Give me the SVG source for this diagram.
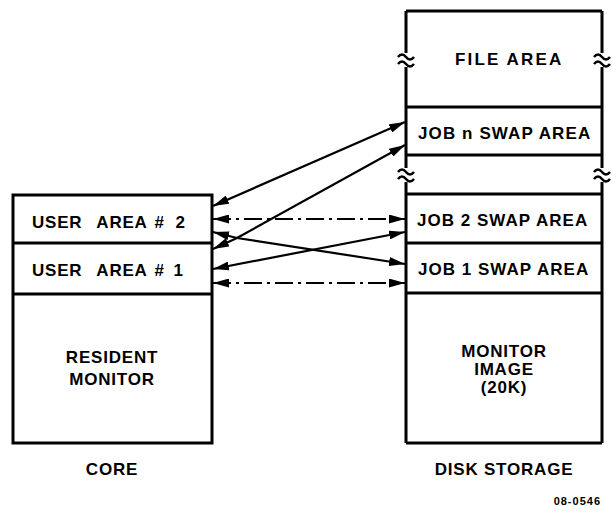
<svg xmlns="http://www.w3.org/2000/svg" width="612" height="512" viewBox="0 0 612 512">
<defs>
<style>
.box{fill:#fff;stroke:#000;stroke-width:3}
.ln{stroke:#000;stroke-width:3;fill:none}
.t{font-family:"Liberation Sans",Arial,sans-serif;font-weight:bold;font-size:17px;fill:#000;letter-spacing:0.8px}
.c{text-anchor:middle}
.conn{stroke:#000;stroke-width:2.2;fill:none}
.dash{stroke-dasharray:18 5 3 5}
.sq{stroke:#000;stroke-width:2.5;fill:none}
</style>
<marker id="ah" viewBox="0 0 16 9" refX="16" refY="4.5" markerWidth="16" markerHeight="9" markerUnits="userSpaceOnUse" orient="auto-start-reverse">
<path d="M0,0 L16,4.5 L0,9 Z" fill="#000"/>
</marker>
</defs>
<rect width="612" height="512" fill="#fff"/>

<g id="core">
<rect class="box" x="13" y="195" width="199" height="248"/>
<line class="ln" x1="13" y1="243" x2="212" y2="243"/>
<line class="ln" x1="13" y1="294" x2="212" y2="294"/>
</g>
<g id="user-area-2"><text class="t" x="32" y="228">USER <tspan dx="9">AREA</tspan> <tspan dx="2">#</tspan> <tspan dx="5">2</tspan></text></g>
<g id="user-area-1"><text class="t" x="32" y="276">USER <tspan dx="9">AREA</tspan> <tspan dx="2">#</tspan> <tspan dx="3">1</tspan></text></g>
<g id="resident-monitor"><text class="t c" x="112" y="363">RESIDENT</text><text class="t c" x="112" y="385">MONITOR</text></g>
<g id="core-label"><text class="t c" x="112" y="475">CORE</text></g>

<g id="disk">
<path class="ln" d="M406,11 H602 M406,443 H602 M406,107 H602 M406,155 H602 M406,194 H602 M406,243 H602 M406,293 H602"/>
<path class="ln" d="M406,11 V53 M406,67 V168 M406,182 V443 M602,11 V53 M602,67 V168 M602,182 V443"/>
</g>
<g id="breaks">
<path class="sq" d="M398,57 q4,-5 8,0 t8,0 M398,64 q4,-5 8,0 t8,0"/>
<path class="sq" d="M594,57 q4,-5 8,0 t8,0 M594,64 q4,-5 8,0 t8,0"/>
<path class="sq" d="M398,172 q4,-5 8,0 t8,0 M398,179 q4,-5 8,0 t8,0"/>
<path class="sq" d="M594,172 q4,-5 8,0 t8,0 M594,179 q4,-5 8,0 t8,0"/>
</g>
<g id="file-area"><text class="t" x="455" y="65" textLength="107" lengthAdjust="spacing">FILE AREA</text></g>
<g id="job-n-swap"><text class="t" x="418" y="139" textLength="173" lengthAdjust="spacing">JOB n SWAP AREA</text></g>
<g id="job-2-swap"><text class="t" x="417" y="226" textLength="171" lengthAdjust="spacing">JOB 2 SWAP AREA</text></g>
<g id="job-1-swap"><text class="t" x="418" y="275" textLength="171" lengthAdjust="spacing">JOB 1 SWAP AREA</text></g>
<g id="monitor-image"><text class="t c" x="504" y="357">MONITOR</text><text class="t c" x="504" y="375">IMAGE</text><text class="t c" x="504" y="393">(20K)</text></g>
<g id="disk-label"><text class="t c" x="504" y="475">DISK STORAGE</text></g>
<g id="fig-number"><text class="t" x="601" y="505" text-anchor="end" style="font-size:11px;letter-spacing:1px">08-0546</text></g>

<g id="connectors">
<line class="conn" x1="213" y1="206" x2="405" y2="122" marker-start="url(#ah)" marker-end="url(#ah)"/>
<line class="conn" x1="237" y1="238" x2="405" y2="145" marker-end="url(#ah)"/>
<line class="conn" x1="237" y1="238" x2="405" y2="264" marker-end="url(#ah)"/>
<line class="conn dash" x1="213" y1="219" x2="405" y2="219" marker-start="url(#ah)" marker-end="url(#ah)"/>
<line class="conn" x1="213" y1="269" x2="405" y2="232" marker-start="url(#ah)" marker-end="url(#ah)"/>
<line class="conn dash" x1="213" y1="283" x2="405" y2="283" marker-start="url(#ah)" marker-end="url(#ah)"/>
<line class="conn" x1="237" y1="238" x2="213" y2="232" marker-end="url(#ah)"/>
<line class="conn" x1="237" y1="238" x2="213" y2="249" marker-end="url(#ah)"/>
</g>
</svg>
